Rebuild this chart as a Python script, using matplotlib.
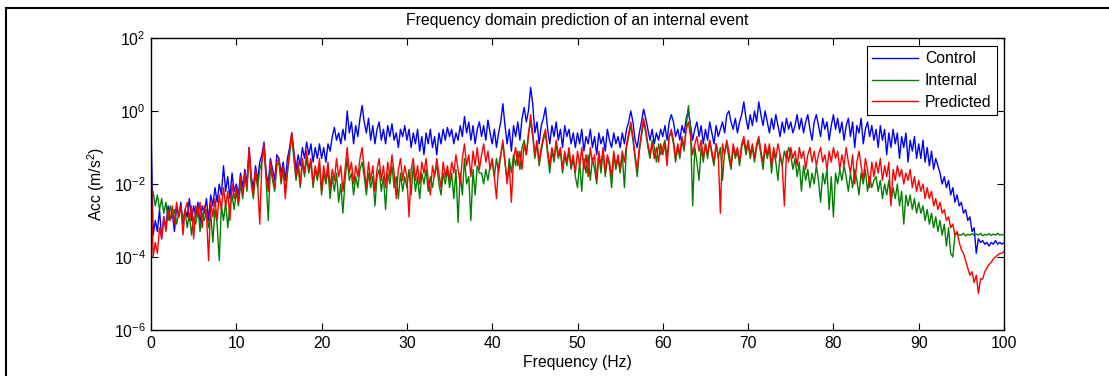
import numpy as np
import matplotlib
matplotlib.use("Agg")
import matplotlib.pyplot as plt
from matplotlib.lines import Line2D

plt.rcParams['font.family'] = ['Liberation Sans', 'DejaVu Sans']
plt.rcParams['mathtext.fontset'] = 'custom'
plt.rcParams['mathtext.rm'] = 'Liberation Sans'
plt.rcParams['mathtext.it'] = 'Liberation Sans:italic'

# frequency grid (Hz), 0.25 Hz spacing
freq_step = 0.25
n_pts = 401

# log10 of acceleration amplitude (0.25 Hz steps)
control_log10 = [
    -0.4, -3.4, -3.0, -3.3, -2.7, -3.5, -2.9, -3.2, -2.6, -3.0, -2.8, -3.3, -2.6, -2.9, -2.5, -3.1, -2.7, -2.9, -2.4, -3.0,
    -2.6, -2.9, -2.5, -3.1, -2.6, -2.8, -2.4, -3.0, -2.3, -2.6, -2.1, -2.5, -2.0, -2.3, -1.5, -2.2, -1.8, -2.4, -1.7, -2.2,
    -2.0, -2.3, -1.7, -2.1, -1.6, -2.0, -1.0, -1.8, -2.1, -1.5, -1.9, -1.4, -1.2, -0.85, -1.7, -2.0, -1.3, -1.6, -1.9, -1.2,
    -1.3, -1.7, -1.4, -1.9, -1.3, -1.0, -0.6, -1.1, -1.6, -1.2, -1.5, -1.0, -1.3, -0.85, -1.2, -0.9, -1.4, -1.0, -1.3, -0.9,
    -1.3, -1.0, -1.4, -0.9, -1.1, -0.7, -0.45, -0.8, -0.6, -0.9, -0.5, -0.8, 0.0, -0.6, -0.3, -0.9, -0.4, -0.7, -0.2, 0.15,
    -0.3, -0.6, -0.2, -0.8, -0.4, -0.9, -0.5, -0.3, -0.8, -0.5, -0.9, -0.4, -0.7, -0.35, -0.8, -0.6, -1.0, -0.5, -0.7, -0.4,
    -0.8, -0.5, -1.0, -0.6, -0.9, -0.5, -1.1, -0.7, -1.2, -0.6, -0.9, -0.5, -1.0, -0.7, -1.2, -0.6, -0.9, -0.5, -0.8, -0.45,
    -0.7, -0.5, -0.9, -0.6, -0.8, -0.4, -0.7, -0.15, -0.6, -0.3, -0.8, -0.4, -0.9, -0.5, -0.3, -0.7, -0.4, -0.8, -0.25, -0.6,
    -0.9, -0.5, -1.0, -0.6, -0.3, 0.2, -0.4, -0.9, -0.5, -1.1, -0.4, -0.7, -0.3, -0.8, -0.2, 0.1, -0.3, 0.0, 0.65, 0.2,
    -0.6, -0.3, -0.9, -0.4, -0.2, 0.1, -0.5, -0.9, -0.4, -0.7, -0.3, -0.8, -0.5, -1.0, -0.4, -0.7, -0.5, -0.9, -0.6, -1.0,
    -0.6, -0.9, -0.5, -1.1, -0.7, -0.9, -0.5, -1.0, -0.7, -1.2, -0.6, -0.9, -0.7, -1.1, -0.5, -0.8, -1.0, -0.6, -0.9, -0.7,
    -1.0, -0.6, -0.9, -0.5, -0.3, 0.0, -0.3, -0.8, -1.0, -0.6, -0.3, 0.05, -0.2, -0.5, -0.8, -0.5, -0.9, -0.6, -0.8, -0.5,
    -0.7, -0.4, -0.8, -0.3, -0.1, -0.3, -0.7, -0.5, -0.8, -0.4, -0.6, -0.2, 0.0, -0.4, -0.8, -0.5, -0.3, -0.7, -0.4, -0.9,
    -0.5, -0.8, -0.3, -0.6, -0.9, -0.4, -0.7, -0.5, -0.3, -0.6, -0.1, 0.0, -0.3, -0.5, -0.2, -0.6, -0.3, -0.1, 0.25, -0.2,
    -0.5, -0.1, -0.4, 0.0, -0.3, 0.25, -0.1, -0.4, 0.0, -0.3, -0.6, -0.2, -0.5, -0.1, -0.4, -0.7, -0.3, -0.6, -0.2, -0.5,
    -0.3, -0.6, -0.4, -0.1, -0.5, -0.2, -0.6, -0.3, -0.1, -0.5, -0.8, -0.3, -0.1, -0.4, -0.7, -0.2, -0.5, -0.3, -0.8, -0.4,
    -0.1, -0.5, -0.2, -0.6, -0.3, -0.8, -0.4, -0.2, -0.7, -0.3, -1.0, -0.4, -0.6, -0.2, -0.9, -0.5, -0.3, -0.7, -0.4, -0.8,
    -0.5, -1.0, -0.4, -0.8, -0.5, -1.2, -0.6, -1.0, -0.5, -0.9, -0.6, -1.3, -0.7, -1.0, -0.6, -1.4, -0.8, -1.1, -0.7, -1.3,
    -0.9, -1.3, -0.8, -1.4, -1.0, -1.5, -1.1, -1.6, -1.3, -1.5, -1.7, -2.0, -1.8, -2.1, -1.9, -2.3, -2.1, -2.5, -2.3, -2.6,
    -2.5, -2.8, -2.7, -3.0, -2.9, -3.3, -3.2, -3.9, -3.5, -3.6, -3.55, -3.65, -3.6, -3.7, -3.6, -3.65, -3.55, -3.65, -3.6, -3.65,
    -3.6,
]

internal_log10 = [
    -2.3, -2.2, -2.6, -2.3, -2.7, -2.4, -2.8, -2.5, -3.0, -2.6, -2.9, -2.7, -3.1, -2.8, -2.6, -3.0, -2.7, -3.2, -2.8, -3.4,
    -2.9, -3.1, -2.6, -3.3, -2.8, -3.0, -2.7, -3.2, -2.8, -3.6, -2.7, -3.1, -4.1, -2.6, -3.0, -2.5, -3.2, -2.6, -2.3, -2.7,
    -2.2, -2.6, -2.0, -2.4, -1.8, -2.2, -1.1, -2.0, -2.4, -1.7, -2.1, -1.6, -1.4, -1.0, -1.9, -3.0, -1.5, -1.9, -2.2, -1.5,
    -1.4, -2.0, -1.6, -2.2, -1.7, -1.2, -0.65, -1.3, -1.9, -1.5, -2.1, -1.4, -1.8, -1.3, -1.7, -1.4, -2.1, -1.6, -1.9, -1.5,
    -2.3, -1.7, -2.0, -1.6, -2.4, -1.8, -2.2, -1.7, -2.5, -2.0, -2.8, -1.9, -1.3, -1.9, -1.7, -2.3, -1.8, -2.1, -1.6, -1.4,
    -1.8, -2.3, -1.7, -2.1, -1.8, -2.6, -1.8, -1.6, -2.2, -1.8, -2.7, -1.7, -2.0, -1.5, -2.1, -1.8, -2.4, -1.7, -2.2, -1.8,
    -2.1, -1.6, -2.3, -1.5, -2.2, -1.8, -2.4, -1.7, -2.0, -1.6, -2.2, -1.8, -2.1, -1.7, -1.5, -2.0, -2.3, -1.7, -2.0, -1.6,
    -2.1, -1.7, -2.4, -1.6, -3.05, -1.7, -2.3, -1.3, -2.0, -1.8, -3.0, -1.6, -2.3, -1.5, -1.7, -1.7, -2.0, -1.6, -1.9, -1.5,
    -1.4, -1.8, -1.3, -1.7, -1.2, -0.9, -1.4, -1.9, -1.3, -1.7, -1.2, -1.5, -1.1, -1.6, -1.0, -0.8, -1.2, -0.6, -0.3, -0.7,
    -1.3, -0.9, -1.5, -1.1, -0.8, -0.6, -1.2, -1.7, -1.1, -1.4, -0.9, -1.3, -1.1, -1.7, -1.2, -1.5, -1.1, -1.6, -1.3, -1.8,
    -2.1, -1.4, -2.2, -1.3, -1.7, -1.2, -1.9, -1.3, -1.6, -2.0, -1.2, -1.7, -1.1, -1.8, -1.3, -1.5, -2.1, -1.2, -1.6, -1.3,
    -1.7, -1.2, -2.1, -1.0, -0.7, -0.4, -0.8, -1.3, -1.8, -1.1, -0.7, -0.3, -0.6, -1.0, -1.3, -0.8, -1.0, -1.4, -0.9, -1.2,
    -1.0, -0.8, -1.3, -0.7, -0.6, -0.9, -1.4, -1.0, -1.3, -0.8, -1.1, -0.4, 0.15, -0.5, -2.6, -1.0, -1.4, -1.9, -1.0, -1.4,
    -0.9, -1.3, -0.8, -1.2, -1.5, -0.9, -1.3, -1.0, -1.9, -1.1, -0.9, -1.3, -1.6, -1.0, -1.3, -1.1, -1.5, -1.0, -0.8, -1.2,
    -0.9, -1.3, -1.0, -1.4, -1.0, -0.8, -1.2, -1.6, -1.0, -1.3, -1.0, -1.7, -1.1, -1.4, -1.9, -1.2, -1.5, -1.1, -1.3, -1.0,
    -1.2, -1.6, -1.3, -1.8, -1.4, -2.2, -1.5, -1.9, -1.6, -2.1, -1.7, -2.0, -1.5, -1.9, -2.5, -1.7, -2.0, -1.6, -2.7, -1.8,
    -2.9, -1.7, -2.0, -1.6, -1.9, -1.5, -1.8, -2.2, -1.7, -2.1, -1.6, -1.9, -2.3, -1.7, -2.0, -1.6, -2.2, -1.8, -2.1, -1.9,
    -1.8, -2.2, -1.9, -2.4, -2.0, -2.3, -1.9, -2.5, -2.1, -2.4, -2.0, -2.6, -2.2, -3.1, -2.3, -2.6, -2.3, -2.7, -2.4, -2.8,
    -2.5, -2.8, -2.6, -3.0, -2.7, -3.1, -2.8, -3.2, -2.9, -3.3, -3.0, -3.4, -3.1, -3.7, -3.2, -3.9, -4.0, -3.4, -3.35, -3.4,
    -3.4, -3.35, -3.42, -3.38, -3.4, -3.36, -3.41, -3.37, -3.4, -3.35, -3.42, -3.38, -3.4, -3.36, -3.41, -3.37, -3.4, -3.35, -3.4, -3.38,
    -3.4,
]

predicted_log10 = [
    -1.3, -4.0, -3.6, -3.9, -3.2, -3.5, -2.9, -3.3, -2.7, -3.0, -2.6, -3.1, -2.5, -2.9, -2.6, -3.4, -2.7, -2.5, -3.0, -2.6,
    -3.5, -2.6, -2.9, -2.5, -3.2, -2.6, -2.8, -4.1, -2.5, -2.9, -2.4, -3.0, -2.3, -2.7, -2.1, -2.6, -2.2, -3.0, -2.0, -2.4,
    -2.1, -2.5, -1.8, -2.3, -1.7, -2.1, -1.0, -1.9, -2.3, -1.6, -2.0, -3.1, -1.4, -0.9, -1.8, -2.2, -1.4, -1.8, -2.1, -1.4,
    -1.3, -1.9, -1.5, -2.4, -1.6, -1.1, -0.6, -1.2, -1.8, -1.4, -2.0, -1.3, -1.7, -1.1, -1.6, -1.3, -2.0, -1.5, -1.8, -1.3,
    -2.2, -1.5, -1.9, -1.4, -2.1, -1.6, -1.9, -1.3, -1.8, -1.5, -2.2, -1.6, -1.0, -1.7, -1.4, -2.0, -1.5, -1.8, -1.3, -1.0,
    -1.6, -2.1, -1.4, -1.9, -1.5, -2.2, -1.6, -1.3, -1.9, -1.5, -2.1, -1.4, -1.8, -1.2, -1.7, -2.4, -1.6, -1.3, -1.9, -1.5,
    -1.8, -2.9, -1.6, -1.3, -1.9, -1.5, -2.0, -1.4, -1.7, -1.3, -1.9, -2.3, -1.5, -1.8, -1.3, -1.7, -2.1, -1.4, -1.8, -1.5,
    -1.9, -1.4, -1.7, -1.2, -1.6, -2.0, -1.3, -0.9, -1.5, -1.2, -1.8, -1.1, -1.5, -1.0, -1.6, -1.2, -0.9, -1.4, -1.1, -1.6,
    -1.3, -1.8, -2.4, -1.5, -1.2, -0.8, -1.4, -2.0, -1.5, -2.5, -1.3, -1.0, -1.5, -1.1, -1.6, -0.9, -1.2, -0.7, -0.1, -0.6,
    -1.2, -0.8, -1.4, -1.0, -0.7, -0.5, -1.1, -1.5, -1.0, -1.3, -0.8, -1.2, -1.0, -1.6, -1.1, -1.4, -1.0, -1.5, -1.2, -1.7,
    -1.1, -1.5, -1.0, -1.6, -1.2, -1.8, -1.0, -1.4, -1.2, -1.9, -1.1, -1.5, -1.0, -1.7, -1.2, -1.4, -1.8, -1.1, -1.5, -1.2,
    -1.6, -1.1, -1.4, -0.9, -0.6, -0.3, -0.7, -1.2, -1.6, -1.0, -0.6, -0.2, -0.5, -0.9, -1.2, -0.9, -1.3, -1.0, -1.4, -0.9,
    -1.2, -0.9, -1.5, -0.7, -0.5, -0.8, -1.3, -0.9, -1.2, -0.7, -1.0, -0.5, -0.3, -0.7, -1.2, -0.9, -0.7, -1.1, -0.8, -1.3,
    -0.9, -1.2, -0.8, -1.1, -1.4, -0.9, -1.2, -2.8, -0.9, -1.2, -0.8, -1.1, -1.5, -0.9, -1.2, -1.0, -1.4, -0.9, -0.7, -1.1,
    -0.8, -1.2, -0.9, -1.3, -0.9, -0.7, -1.1, -1.4, -0.9, -1.2, -0.9, -1.5, -1.0, -1.3, -0.9, -1.2, -1.5, -2.6, -1.1, -1.4,
    -1.0, -1.3, -1.1, -1.5, -1.0, -1.3, -1.1, -1.6, -1.2, -1.0, -1.4, -1.1, -1.5, -1.2, -1.0, -1.4, -1.2, -1.6, -1.1, -1.4,
    -1.0, -1.3, -1.1, -1.6, -1.2, -1.5, -1.0, -1.4, -1.7, -1.2, -2.0, -1.4, -1.1, -1.5, -1.9, -1.3, -1.6, -2.1, -1.4, -1.8,
    -1.4, -1.7, -1.3, -1.9, -1.5, -1.8, -1.4, -2.6, -1.6, -1.9, -1.5, -1.8, -1.6, -2.0, -1.7, -1.9, -1.6, -2.1, -1.8, -2.2,
    -1.9, -2.2, -2.0, -2.4, -2.1, -2.4, -2.2, -2.6, -2.4, -2.7, -2.5, -2.8, -2.7, -3.0, -2.9, -3.2, -3.1, -3.4, -3.3, -3.6,
    -3.8, -3.9, -4.1, -4.3, -4.5, -4.4, -4.7, -4.5, -5.0, -4.6, -4.6, -4.4, -4.3, -4.2, -4.15, -4.05, -4.0, -3.95, -3.9, -3.9,
    -3.85,
]

series_labels = ["Control", "Internal", "Predicted"]
series_colors = ["#0000ff", "#008000", "#ff0000"]
x_ticks = [0, 10, 20, 30, 40, 50, 60, 70, 80, 90, 100]
y_ticks = [1e-6, 1e-4, 1e-2, 1e0, 1e2]

freq = np.arange(n_pts) * freq_step
FS = 11.3

fig = plt.figure(figsize=(11.09, 3.76), dpi=100)
ax = fig.add_axes([151 / 1109, 1 - 330 / 376, (1004 - 151) / 1109, (330 - 38) / 376])

for vals, lab, col in zip([control_log10, internal_log10, predicted_log10], series_labels, series_colors):
    ax.plot(freq, 10.0 ** np.array(vals), color=col, lw=1.0, label=lab)

ax.set_yscale('log')
ax.set_xlim(0, 100)
ax.set_ylim(1e-6, 1e2)
ax.set_xticks(x_ticks)
ax.set_yticks(y_ticks)
ax.minorticks_off()
ax.tick_params(direction='in', top=True, right=True, length=5, width=0.8, labelsize=FS, pad=4)
for s in ax.spines.values():
    s.set_linewidth(1.0)

ax.set_title("Frequency domain prediction of an internal event", fontsize=FS, pad=9)
ax.set_xlabel("Frequency (Hz)", fontsize=FS, labelpad=3)
ax.set_ylabel("Acc (m/s$^2$)", fontsize=FS, labelpad=5)

leg = ax.legend(loc='upper right', bbox_to_anchor=(1 - 7 / 853, 1 - 8 / 292), fontsize=FS,
                fancybox=False, framealpha=1, edgecolor='black', handlelength=2.9,
                borderpad=0.35, labelspacing=0.42, handletextpad=0.45, borderaxespad=0)
leg.get_frame().set_linewidth(0.8)

# outer frame lines (left and top) of the figure
fig.add_artist(Line2D([6 / 1109, 6 / 1109], [0, 1 - 8 / 376], transform=fig.transFigure, color='black', lw=1.5))
fig.add_artist(Line2D([6 / 1109, 1], [1 - 8 / 376, 1 - 8 / 376], transform=fig.transFigure, color='black', lw=1.5))

fig.savefig("out.png", dpi=100)
